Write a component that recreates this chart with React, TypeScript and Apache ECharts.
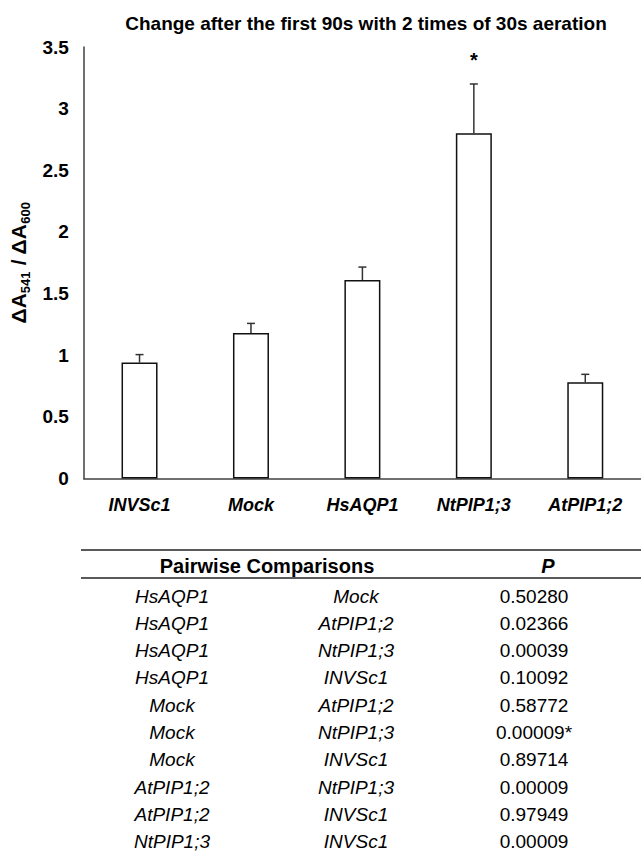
import React, { useEffect, useRef } from "react";
import * as echarts from "echarts";

const categories = ["INVSc1", "Mock", "HsAQP1", "NtPIP1;3", "AtPIP1;2"];
const means = [0.94, 1.18, 1.61, 2.8, 0.78];
const errors = [0.065, 0.078, 0.105, 0.4, 0.065];
const significance = ["", "", "", "*", ""];
const yTicks = [0, 0.5, 1, 1.5, 2, 2.5, 3, 3.5];

const compA = ["HsAQP1", "HsAQP1", "HsAQP1", "HsAQP1", "Mock", "Mock", "Mock", "AtPIP1;2", "AtPIP1;2", "NtPIP1;3"];
const compB = ["Mock", "AtPIP1;2", "NtPIP1;3", "INVSc1", "AtPIP1;2", "NtPIP1;3", "INVSc1", "NtPIP1;3", "INVSc1", "INVSc1"];
const pValues = ["0.50280", "0.02366", "0.00039", "0.10092", "0.58772", "0.00009*", "0.89714", "0.00009", "0.97949", "0.00009"];

const FONT = "'Liberation Sans', Arial, sans-serif";

export default function App() {
  const ref = useRef<HTMLDivElement>(null);
  useEffect(() => {
    if (!ref.current) return;
    const chart = echarts.init(ref.current, null, { renderer: "svg" });

    const tableTop = 550;
    const headerY = 566;
    const headerLine = 578;
    const rowY0 = 596;
    const rowH = 27.3;
    const col1 = 172;
    const col2 = 356;
    const col3 = 534;

    const graphics: any[] = [
      { type: "line", shape: { x1: 81, y1: tableTop, x2: 641, y2: tableTop }, style: { stroke: "#222", lineWidth: 1.5 } },
      { type: "line", shape: { x1: 81, y1: headerLine, x2: 641, y2: headerLine }, style: { stroke: "#222", lineWidth: 1.5 } },
      { type: "text", x: 267, y: headerY, style: { text: "Pairwise Comparisons", font: `bold 20px ${FONT}`, fill: "#000", align: "center", verticalAlign: "middle" } },
      { type: "text", x: 548, y: headerY, style: { text: "P", font: `italic bold 20px ${FONT}`, fill: "#000", align: "center", verticalAlign: "middle" } },
    ];
    compA.forEach((a, i) => {
      const y = rowY0 + i * rowH;
      graphics.push({ type: "text", x: col1, y, style: { text: a, font: `italic 19px ${FONT}`, fill: "#000", align: "center", verticalAlign: "middle" } });
      graphics.push({ type: "text", x: col2, y, style: { text: compB[i], font: `italic 19px ${FONT}`, fill: "#000", align: "center", verticalAlign: "middle" } });
      graphics.push({ type: "text", x: col3, y, style: { text: pValues[i], font: `19px ${FONT}`, fill: "#000", align: "center", verticalAlign: "middle" } });
    });

    chart.setOption({
      animation: false,
      backgroundColor: "#fff",
      title: {
        text: "Change after the first 90s with 2 times of 30s aeration",
        left: 361,
        top: 9,
        textAlign: "center",
        textStyle: { fontFamily: FONT, fontWeight: "bold", fontSize: 19, color: "#000" },
      },
      grid: { left: 81, top: 47, width: 571.5, height: 431.5 },
      xAxis: {
        type: "category",
        data: categories,
        axisLine: { lineStyle: { color: "#404040", width: 1.5 } },
        axisTick: { show: false },
        axisLabel: { margin: 17, fontFamily: FONT, fontWeight: "bold", fontStyle: "italic", fontSize: 18, color: "#000" },
      },
      yAxis: {
        type: "value",
        min: 0,
        max: 3.5,
        interval: 0.5,
        axisLine: { show: true, lineStyle: { color: "#404040", width: 1.5 } },
        axisTick: { show: false },
        splitLine: { show: false },
        axisLabel: {
          margin: 15,
          fontFamily: FONT,
          fontWeight: "bold",
          fontSize: 19,
          color: "#000",
          formatter: (v: number) => (yTicks.includes(v) ? String(v) : ""),
        },
        name: "{b|ΔA}{s|541}{b| / ΔA}{s|600}",
        nameLocation: "middle",
        nameRotate: 90,
        nameGap: 41,
        nameTextStyle: {
          fontFamily: FONT,
          color: "#000",
          rich: {
            b: { fontFamily: FONT, fontWeight: "bold", fontSize: 21, color: "#000", lineHeight: 26, verticalAlign: "middle" },
            s: { fontFamily: FONT, fontWeight: "bold", fontSize: 13, color: "#000", lineHeight: 26, verticalAlign: "bottom" },
          },
        },
      },
      series: [
        {
          type: "bar",
          data: means,
          barWidth: 36,
          itemStyle: { color: "#fff", borderColor: "#111", borderWidth: 1.5 },
          z: 2,
        },
        {
          type: "custom",
          data: categories.map((c, i) => [i, means[i], errors[i]]),
          z: 3,
          renderItem: (params: any, api: any) => {
            const x = api.value(0);
            const v = api.value(1);
            const e = api.value(2);
            const base = api.coord([x, v]);
            const top = api.coord([x, v + e]);
            const cap = 4;
            const children: any[] = [
              { type: "line", shape: { x1: base[0], y1: base[1], x2: top[0], y2: top[1] }, style: { stroke: "#333", lineWidth: 1.5 } },
              { type: "line", shape: { x1: top[0] - cap, y1: top[1], x2: top[0] + cap, y2: top[1] }, style: { stroke: "#333", lineWidth: 1.5 } },
            ];
            const sig = significance[params.dataIndex];
            if (sig) {
              children.push({
                type: "text",
                x: top[0],
                y: top[1] - 24,
                style: { text: sig, font: `bold 20px ${FONT}`, fill: "#000", align: "center", verticalAlign: "middle" },
              });
            }
            return { type: "group", children };
          },
        },
      ],
      graphic: graphics,
    });
    return () => chart.dispose();
  }, []);
  return <div ref={ref} style={{ position: "fixed", left: 0, top: 0, width: 641, height: 852, background: "#fff" }} />;
}
